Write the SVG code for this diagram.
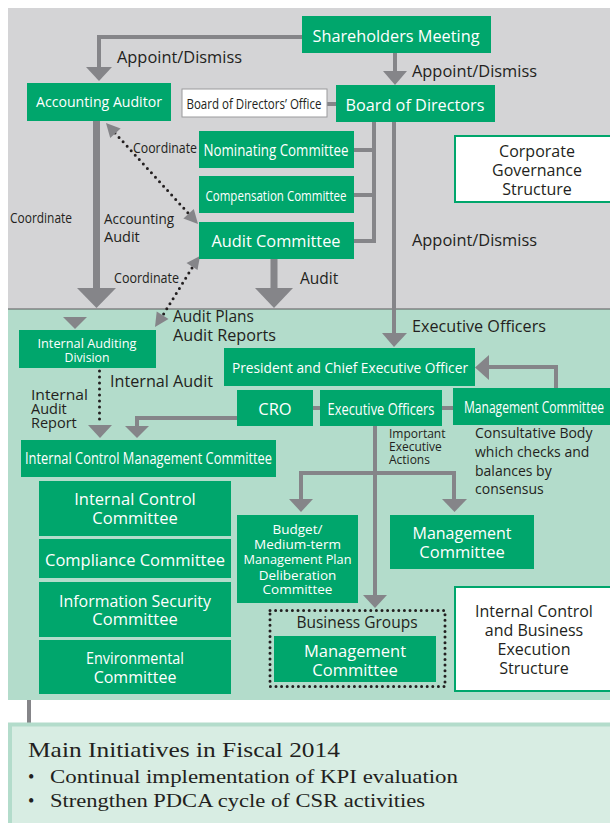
<svg xmlns="http://www.w3.org/2000/svg" width="610" height="823" viewBox="0 0 610 823">
<style>
.bx{fill:#00a66c}
.wb{fill:#fff;stroke:#00a66c;stroke-width:2}
.t{font-family:"Open Sans","Noto Sans",sans-serif;fill:#fff;text-anchor:middle}
.l{font-family:"Open Sans","Noto Sans",sans-serif;fill:#231f20}
.d{font-family:"Open Sans","Noto Sans",sans-serif;fill:#231f20;text-anchor:middle}
.ln{fill:none;stroke:#858589;stroke-width:4}
.lw{fill:none;stroke:#858589;stroke-width:7}
.ar{fill:#858589}
.dt{fill:none;stroke:#231f20;stroke-width:3;stroke-dasharray:0 6;stroke-linecap:round}
.sf{font-family:"Liberation Serif","DejaVu Serif",serif;fill:#231f20}
</style>
<rect x="0" y="0" width="610" height="823" fill="#fff"/>
<rect x="8" y="8" width="602" height="301" fill="#d4d4d6"/>
<rect x="8" y="309" width="602" height="391" fill="#b3dccb"/>
<line x1="8" y1="309" x2="610" y2="309" stroke="#5a5a5c" stroke-width="1.2"/>
<line x1="29" y1="700" x2="29" y2="723" stroke="#858589" stroke-width="4"/>
<rect x="10" y="724.5" width="604" height="104" fill="#d8ede3" stroke="#b3dccb" stroke-width="4"/>

<g id="connectors">
  <path class="ln" d="M302,37 H99 V68"/>
  <polygon class="ar" points="86,67 112,67 99,81"/>
  <path class="ln" d="M395,53 V72"/>
  <polygon class="ar" points="383,71 407,71 395,85"/>
  <path class="ln" d="M327,104 H336"/>
  <path class="ln" d="M374,122 V241 H354 M354,150 H374 M354,195 H374"/>
  <path class="ln" d="M394,122 V334"/>
  <polygon class="ar" points="382,333 407,333 394,347"/>
  <path class="lw" d="M96.5,121 V289"/>
  <polygon class="ar" points="77,288 116,288 96.5,308"/>
  <polygon class="ar" points="63,317 87,317 75,329"/>
  <path class="lw" d="M274,259 V289"/>
  <polygon class="ar" points="255,288 293,288 274,308"/>
  <path class="dt" d="M115,133 L189,214"/>
  <polygon class="ar" points="106,123 110.2,138 120.6,128.6"/>
  <polygon class="ar" points="198,224 183.4,218.4 193.8,209"/>
  <path class="dt" d="M192,268 L163,315"/>
  <polygon class="ar" points="200,256 186.5,263 197.5,270"/>
  <polygon class="ar" points="155,327 156.7,311.4 168.5,319"/>
  <path class="dt" d="M99.5,371 V422"/>
  <polygon class="ar" points="88,425 112,425 100,438"/>
  <path class="ln" d="M237,418 H137 V427"/>
  <polygon class="ar" points="125,426 149,426 137,438"/>
  <path class="ln" d="M313,408 H320 M442,408 H453"/>
  <path class="ln" d="M556,388 V367 H488"/>
  <polygon class="ar" points="489,355 489,380 475,367.5"/>
  <path class="ln" d="M375,426 V596 M301,500 V473 H454 V500"/>
  <polygon class="ar" points="289,499 313,499 301,512"/>
  <polygon class="ar" points="442,499 467,499 454.5,512"/>
  <polygon class="ar" points="363,595 387,595 375,608"/>
</g>

<g id="labels">
  <text class="l" x="117" y="63" font-size="15.5" textLength="125" lengthAdjust="spacingAndGlyphs">Appoint/Dismiss</text>
  <text class="l" x="412" y="77" font-size="15.5" textLength="125" lengthAdjust="spacingAndGlyphs">Appoint/Dismiss</text>
  <text class="l" x="412" y="246" font-size="15.5" textLength="125" lengthAdjust="spacingAndGlyphs">Appoint/Dismiss</text>
  <text class="l" x="412" y="332" font-size="15.5" textLength="134" lengthAdjust="spacingAndGlyphs">Executive Officers</text>
  <text class="l" x="10" y="223" font-size="14" textLength="62" lengthAdjust="spacingAndGlyphs">Coordinate</text>
  <text class="l" x="133" y="153" font-size="14" textLength="64" lengthAdjust="spacingAndGlyphs">Coordinate</text>
  <text class="l" x="114" y="283" font-size="14" textLength="65" lengthAdjust="spacingAndGlyphs">Coordinate</text>
  <text class="l" x="104" y="224" font-size="14.5" textLength="70" lengthAdjust="spacingAndGlyphs">Accounting</text>
  <text class="l" x="104" y="242" font-size="14.5">Audit</text>
  <text class="l" x="300" y="284" font-size="15.5">Audit</text>
  <text class="l" x="173" y="322" font-size="15.5">Audit Plans</text>
  <text class="l" x="173" y="341" font-size="15.5" textLength="103" lengthAdjust="spacingAndGlyphs">Audit Reports</text>
  <text class="l" x="110" y="387" font-size="15.5" textLength="103" lengthAdjust="spacingAndGlyphs">Internal Audit</text>
  <text class="l" x="31" y="400" font-size="14.5" textLength="57" lengthAdjust="spacingAndGlyphs">Internal</text>
  <text class="l" x="31" y="414" font-size="14.5">Audit</text>
  <text class="l" x="31" y="428" font-size="14.5">Report</text>
  <text class="l" x="389" y="438" font-size="12">Important</text>
  <text class="l" x="389" y="451" font-size="12">Executive</text>
  <text class="l" x="389" y="464" font-size="12">Actions</text>
  <text class="l" x="475" y="438" font-size="14">Consultative Body</text>
  <text class="l" x="475" y="457" font-size="14">which checks and</text>
  <text class="l" x="475" y="476" font-size="14">balances by</text>
  <text class="l" x="475" y="494" font-size="14">consensus</text>
</g>

<g id="shareholders-meeting"><rect class="bx" x="302" y="16" width="189" height="37"/><text class="t" x="396" y="42" font-size="16.5" textLength="167" lengthAdjust="spacingAndGlyphs">Shareholders Meeting</text></g>
<g id="accounting-auditor"><rect class="bx" x="27" y="83" width="144" height="38"/><text class="t" x="99" y="107" font-size="15" textLength="126" lengthAdjust="spacingAndGlyphs">Accounting Auditor</text></g>
<g id="board-office"><rect x="182" y="89" width="145" height="28" fill="#fff" stroke="#9a9a9c" stroke-width="1"/><text class="d" x="254" y="109" font-size="14" textLength="135" lengthAdjust="spacingAndGlyphs">Board of Directors’ Office</text></g>
<g id="board-of-directors"><rect class="bx" x="336" y="85" width="159" height="37"/><text class="t" x="415" y="111" font-size="16.5" textLength="139" lengthAdjust="spacingAndGlyphs">Board of Directors</text></g>
<g id="nominating-committee"><rect class="bx" x="199" y="131" width="155" height="37"/><text class="t" x="276" y="156" font-size="15.5" textLength="145" lengthAdjust="spacingAndGlyphs">Nominating Committee</text></g>
<g id="compensation-committee"><rect class="bx" x="199" y="176" width="155" height="37"/><text class="t" x="276" y="201" font-size="14.5" textLength="141" lengthAdjust="spacingAndGlyphs">Compensation Committee</text></g>
<g id="audit-committee"><rect class="bx" x="199" y="222" width="155" height="37"/><text class="t" x="276" y="247" font-size="16.5" textLength="129" lengthAdjust="spacingAndGlyphs">Audit Committee</text></g>
<g id="corporate-governance-structure"><rect class="wb" x="455" y="136" width="160" height="66"/><text class="d" x="537" y="157" font-size="16">Corporate</text><text class="d" x="537" y="176" font-size="16">Governance</text><text class="d" x="537" y="195" font-size="16">Structure</text></g>

<g id="internal-auditing-division"><rect class="bx" x="19" y="330" width="137" height="38"/><text class="t" x="87" y="348" font-size="13.5" textLength="99" lengthAdjust="spacingAndGlyphs">Internal Auditing</text><text class="t" x="87" y="362" font-size="13.5" textLength="45" lengthAdjust="spacingAndGlyphs">Division</text></g>
<g id="president-ceo"><rect class="bx" x="224" y="348" width="251" height="38"/><text class="t" x="350" y="373" font-size="15" textLength="236" lengthAdjust="spacingAndGlyphs">President and Chief Executive Officer</text></g>
<g id="cro"><rect class="bx" x="237" y="390" width="76" height="36"/><text class="t" x="275" y="415" font-size="16.5">CRO</text></g>
<g id="executive-officers"><rect class="bx" x="320" y="390" width="122" height="36"/><text class="t" x="381" y="415" font-size="15.5" textLength="107" lengthAdjust="spacingAndGlyphs">Executive Officers</text></g>
<g id="management-committee-top"><rect class="bx" x="453" y="388" width="160" height="37"/><text class="t" x="534" y="413" font-size="15.5" textLength="140" lengthAdjust="spacingAndGlyphs">Management Committee</text></g>
<g id="internal-control-management-committee"><rect class="bx" x="21" y="440" width="255" height="37"/><text class="t" x="148.5" y="464" font-size="15.5" textLength="247" lengthAdjust="spacingAndGlyphs">Internal Control Management Committee</text></g>
<g id="internal-control-committee"><rect class="bx" x="39" y="481" width="192" height="55"/><text class="t" x="135" y="505" font-size="16.5">Internal Control</text><text class="t" x="135" y="524" font-size="16.5">Committee</text></g>
<g id="compliance-committee"><rect class="bx" x="39" y="539" width="192" height="39"/><text class="t" x="135" y="566" font-size="16.5" textLength="180" lengthAdjust="spacingAndGlyphs">Compliance Committee</text></g>
<g id="information-security-committee"><rect class="bx" x="39" y="582" width="192" height="55"/><text class="t" x="135" y="607" font-size="16.5" textLength="152" lengthAdjust="spacingAndGlyphs">Information Security</text><text class="t" x="135" y="625" font-size="16.5">Committee</text></g>
<g id="environmental-committee"><rect class="bx" x="39" y="640" width="192" height="54"/><text class="t" x="135" y="664" font-size="16" textLength="98" lengthAdjust="spacingAndGlyphs">Environmental</text><text class="t" x="135" y="683" font-size="16">Committee</text></g>
<g id="budget-committee"><rect class="bx" x="237" y="515" width="121" height="88"/><text class="t" x="297.5" y="534" font-size="13.5">Budget/</text><text class="t" x="297.5" y="549" font-size="13.5">Medium-term</text><text class="t" x="297.5" y="564" font-size="13.5" textLength="108" lengthAdjust="spacingAndGlyphs">Management Plan</text><text class="t" x="297.5" y="580" font-size="13.5">Deliberation</text><text class="t" x="297.5" y="594" font-size="13.5">Committee</text></g>
<g id="management-committee-mid"><rect class="bx" x="390" y="515" width="144" height="54"/><text class="t" x="462" y="539" font-size="16.5" textLength="99" lengthAdjust="spacingAndGlyphs">Management</text><text class="t" x="462" y="558" font-size="16.5">Committee</text></g>
<g id="business-groups"><rect x="270" y="610.5" width="175" height="76" fill="none" stroke="#231f20" stroke-width="3" stroke-dasharray="0 5.6" stroke-linecap="round"/><text class="d" x="357" y="628" font-size="15.5">Business Groups</text><rect class="bx" x="274" y="636" width="162" height="46"/><text class="t" x="355" y="657" font-size="16.5">Management</text><text class="t" x="355" y="676" font-size="16.5">Committee</text></g>
<g id="internal-control-structure"><rect class="wb" x="455" y="587" width="160" height="104"/><text class="d" x="534" y="617" font-size="16">Internal Control</text><text class="d" x="534" y="636" font-size="16">and Business</text><text class="d" x="534" y="655" font-size="16">Execution</text><text class="d" x="534" y="674" font-size="16">Structure</text></g>

<g id="main-initiatives">
  <text class="sf" x="28" y="757" font-size="21" textLength="312" lengthAdjust="spacingAndGlyphs">Main Initiatives in Fiscal 2014</text>
  <text class="sf" x="28" y="783" font-size="18">•</text>
  <text class="sf" x="50" y="783" font-size="19" textLength="408" lengthAdjust="spacingAndGlyphs">Continual implementation of KPI evaluation</text>
  <text class="sf" x="28" y="807" font-size="18">•</text>
  <text class="sf" x="50" y="807" font-size="19" textLength="375" lengthAdjust="spacingAndGlyphs">Strengthen PDCA cycle of CSR activities</text>
</g>
</svg>
